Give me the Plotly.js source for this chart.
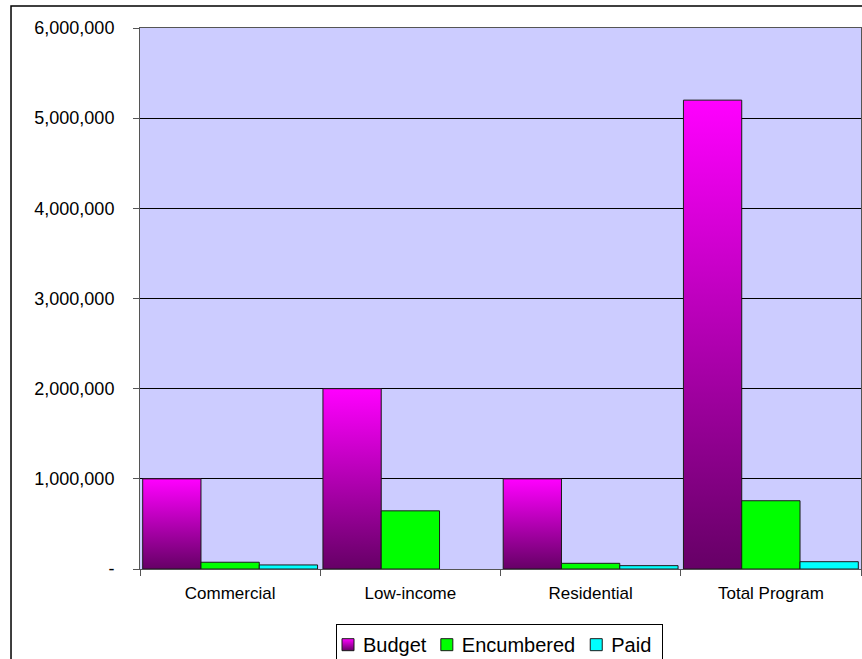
<!DOCTYPE html>
<html>
<head>
<meta charset="utf-8">
<script src="https://cdn.plot.ly/plotly-3.0.1.min.js"></script>
<style>
html,body{margin:0;padding:0;background:#fff;}
#chart{width:862px;height:659px;}
</style>
</head>
<body>
<div id="chart"></div>
<script>
var categories = ["Commercial", "Low-income", "Residential", "Total Program"];
var budget = [1000000, 2000000, 1000000, 5200000];
var encumbered = [75000, 645000, 63000, 757000];
var paid = [45000, null, 37000, 81000];
var yTickVals = [0, 1000000, 2000000, 3000000, 4000000, 5000000, 6000000];
var yTickText = ["-", "1,000,000", "2,000,000", "3,000,000", "4,000,000", "5,000,000", "6,000,000"];

var FONT = "Arial, 'Liberation Sans', sans-serif";
var barLine = {color: "#1a1a1a", width: 1};

var traces = [
  {type: "bar", name: "Budget", x: categories, y: budget,
   marker: {color: "#b000b0", line: barLine}},
  {type: "bar", name: "Encumbered", x: categories, y: encumbered,
   marker: {color: "#00ff00", line: barLine}},
  {type: "bar", name: "Paid", x: categories, y: paid,
   marker: {color: "#00ffff", line: barLine}}
];

var layout = {
  width: 862, height: 659,
  margin: {l: 140, r: 1, t: 28, b: 90, autoexpand: false},
  paper_bgcolor: "#ffffff",
  plot_bgcolor: "#ccccff",
  barmode: "group",
  bargap: 0.03,
  bargroupgap: 0,
  font: {family: FONT, color: "#000"},
  showlegend: true,
  legend: {
    orientation: "h", x: 0.5, xanchor: "center", y: -0.102, yanchor: "top",
    bordercolor: "#000", borderwidth: 1, bgcolor: "#fff",
    font: {family: FONT, size: 20, color: "#000"},
    itemwidth: 30, tracegroupgap: 0
  },
  xaxis: {
    type: "category",
    showline: true, linecolor: "#555", linewidth: 1, mirror: true,
    ticks: "outside", tickson: "boundaries", ticklen: 6, tickcolor: "#555",
    tickfont: {family: FONT, size: 17, color: "#000"},
    showgrid: false, zeroline: false,
    ticklabelstandoff: 9
  },
  yaxis: {
    range: [0, 6000000],
    tickvals: yTickVals, ticktext: yTickText,
    showline: true, linecolor: "#555", linewidth: 1, mirror: true,
    ticks: "outside", ticklen: 6, tickcolor: "#555",
    tickfont: {family: FONT, size: 18, color: "#000"},
    showgrid: true, gridcolor: "#000", gridwidth: 1,
    zeroline: false,
    ticklabelstandoff: 15
  },
  shapes: [
    {type: "rect", xref: "paper", yref: "paper",
     x0: -0.1789, x1: 1.02, y0: -0.2, y1: 1.0407,
     line: {color: "#000", width: 1.5}, fillcolor: "rgba(0,0,0,0)", layer: "below"}
  ]
};

function parseTranslate(t) {
  var m = /translate\(\s*([-\d.e]+)[ ,]+([-\d.e]+)\s*\)/.exec(t || "");
  return m ? [parseFloat(m[1]), parseFloat(m[2])] : [0, 0];
}

Plotly.newPlot("chart", traces, layout, {staticPlot: true, displayModeBar: false}).then(function (gd) {
  var ns = "http://www.w3.org/2000/svg";
  var svg = gd.querySelector(".main-svg");
  var defs = svg.querySelector("defs");
  if (!defs) { defs = document.createElementNS(ns, "defs"); svg.insertBefore(defs, svg.firstChild); }
  var grad = document.createElementNS(ns, "linearGradient");
  grad.setAttribute("id", "budgetGrad");
  grad.setAttribute("x1", "0"); grad.setAttribute("y1", "0");
  grad.setAttribute("x2", "0"); grad.setAttribute("y2", "1");
  var s1 = document.createElementNS(ns, "stop");
  s1.setAttribute("offset", "0"); s1.setAttribute("stop-color", "#ff00ff");
  var s2 = document.createElementNS(ns, "stop");
  s2.setAttribute("offset", "1"); s2.setAttribute("stop-color", "#660066");
  grad.appendChild(s1); grad.appendChild(s2);
  defs.appendChild(grad);
  var barTraces = gd.querySelectorAll(".barlayer .trace");
  if (barTraces.length) {
    barTraces[0].querySelectorAll("path").forEach(function (p) { p.style.fill = "url(#budgetGrad)"; });
  }
  var legTraces = gd.querySelectorAll(".legend .traces");
  if (legTraces.length) {
    legTraces[0].querySelectorAll(".legendpoints path").forEach(function (p) { p.style.fill = "url(#budgetGrad)"; });
  }
  // tighten legend spacing to resemble the original
  try {
    var shifts = [-1, -11, -20];
    legTraces.forEach(function (g, k) {
      var tr = parseTranslate(g.getAttribute("transform"));
      g.setAttribute("transform", "translate(" + (tr[0] + (shifts[k] || 0)) + "," + tr[1] + ")");
      var pts = g.querySelector(".legendpoints");
      if (pts) {
        var pt = parseTranslate(pts.getAttribute("transform"));
        pts.setAttribute("transform", "translate(" + (pt[0] + 5) + "," + pt[1] + ")");
      }
    });
    var bg = gd.querySelector(".legend rect.bg");
    if (bg) {
      var bx = parseFloat(bg.getAttribute("x") || 0);
      var bw = parseFloat(bg.getAttribute("width"));
      bg.setAttribute("x", bx + 13);
      bg.setAttribute("width", bw - 28);
    }
  } catch (e) {}
});
</script>
</body>
</html>
